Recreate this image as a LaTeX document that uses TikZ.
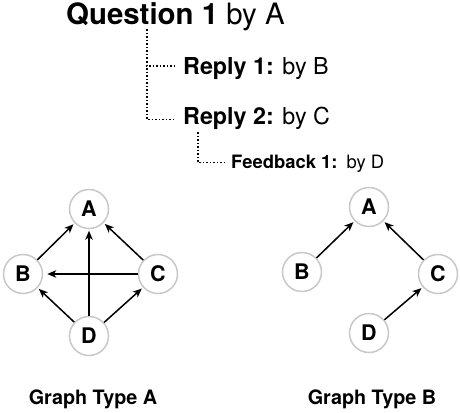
\documentclass[tikz,border=0pt]{standalone}
\usepackage{fontspec}
\setmainfont{TeX Gyre Heros}
\usetikzlibrary{arrows.meta,calc}
\definecolor{ringgray}{RGB}{200,200,200}
\tikzset{
  txt/.style={inner sep=0pt, anchor=base west},
  dotline/.style={line width=1.5pt, dash pattern=on 1.5pt off 2pt},
  vert/.style={circle, draw=ringgray, line width=1.5pt, fill=white, minimum size=39pt, inner sep=0pt, font=\fontsize{21.5}{22}\selectfont\bfseries},
  arr/.style={line width=1.5pt, -{Stealth[length=9pt,width=7.5pt,inset=2.5pt]}, shorten >=1.5pt},
  gcaption/.style={inner sep=0pt, anchor=base, font=\fontsize{19.8}{20}\selectfont\bfseries}
}
\begin{document}
\begin{tikzpicture}[x=1pt,y=-1pt]
\useasboundingbox (0,0) rectangle (460,412);
% thread
\node[txt, font=\fontsize{29.4}{30}\selectfont] (q) at (66,24.5) {\textbf{Question 1} by A};
\node[txt, font=\fontsize{23.3}{24}\selectfont] (r1) at (183,74.5) {\textbf{Reply 1:} by B};
\node[txt, font=\fontsize{23.3}{24}\selectfont] (r2) at (183,124) {\textbf{Reply 2:} by C};
\node[txt, font=\fontsize{18.4}{19}\selectfont] (f1) at (231,168.3) {\textbf{Feedback 1:}\hspace{9pt}by D};
\coordinate (q1) at (147,29.5);
\coordinate (r2s) at (198,132);
\draw[dotline] (q1) |- ($(r1.base west)+(-7,-8.5)$);
\draw[dotline] (q1) |- ($(r2.base west)+(-7,-4.5)$);
\draw[dotline] (r2s) |- ($(f1.base west)+(-7,-6)$);
% graph A
\node[vert] (aA) at (89,209) {A};
\node[vert] (aB) at (23,274) {B};
\node[vert] (aC) at (158,274) {C};
\node[vert] (aD) at (89,336) {D};
\draw[arr] (aB) -- (aA);
\draw[arr] (aC) -- (aA);
\draw[arr] (aD) -- (aA);
\draw[arr, shorten >=4pt] (aC) -- (aB);
\draw[arr] (aD) -- (aB);
\draw[arr] (aD) -- (aC);
\node[gcaption] (capA) at (93,404) {Graph Type A};
% graph B
\node[vert] (bA) at (369,207) {A};
\node[vert] (bB) at (302,272) {B};
\node[vert] (bC) at (438,274) {C};
\node[vert] (bD) at (369,333) {D};
\draw[arr] (bB) -- (bA);
\draw[arr] (bC) -- (bA);
\draw[arr] (bD) -- (bC);
\node[gcaption] (capB) at (372,404) {Graph Type B};
\end{tikzpicture}
\end{document}
